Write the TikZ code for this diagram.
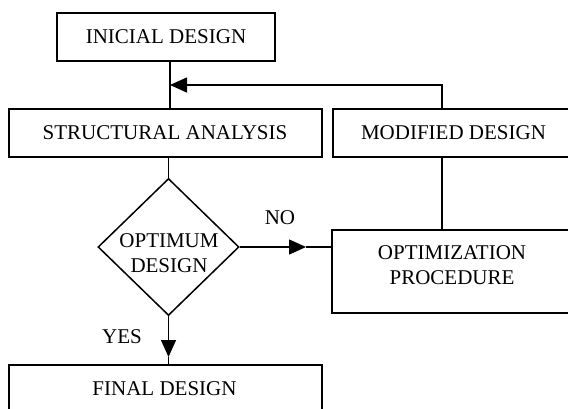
\documentclass[tikz,border=0pt]{standalone}
\usepackage{fontspec}
\setmainfont{Liberation Serif}
\usetikzlibrary{shapes.geometric,arrows.meta}
\tikzset{
  box/.style={draw=black, line width=1.5pt, rectangle, inner sep=0pt, fill=none},
  lbl/.style={inner sep=0pt, align=center, font=\fontsize{21}{25}\selectfont},
  conn/.style={line width=1.5pt},
  tip/.style={-{Triangle[length=17pt,width=15pt]}},
}
\begin{document}
\begin{tikzpicture}[x=1pt,y=-1pt]
\clip (0,0) rectangle (568,409);
\fill[white] (0,0) rectangle (568,409);
% boxes
\node[box, minimum width=218pt, minimum height=48pt] (ini) at (166,37) {};
\node[box, minimum width=313pt, minimum height=48pt] (struct) at (165.5,133) {};
\node[box, minimum width=241pt, minimum height=48pt] (mod) at (453.5,133) {};
\node[box, minimum width=240pt, minimum height=83pt] (opt) at (452,271.5) {};
\node[box, minimum width=313pt, minimum height=60pt] (fin) at (165.5,395) {};
\node[draw=black, line width=1.5pt, diamond, inner sep=0pt, minimum width=141pt, minimum height=137pt] (dia) at (168.5,247) {};
% texts
\node[lbl] (tini) at (166,37) {INICIAL DESIGN};
\node[lbl] (tstruct) at (165,133) {STRUCTURAL ANALYSIS};
\node[lbl] (tmod) at (453.5,133) {MODIFIED DESIGN};
\node[lbl] (topt) at (452,265.5) {OPTIMIZATION\\PROCEDURE};
\node[lbl] (tdia) at (169,253.5) {OPTIMUM\\DESIGN};
\node[lbl] (tfin) at (164.5,389) {FINAL DESIGN};
\node[lbl] (tno) at (280,218) {NO};
\node[lbl] (tyes) at (122,337) {YES};
% connector helper points
\coordinate (j) at (170,85);
\coordinate (k) at (442,85);
\coordinate (n) at (306,247);
\coordinate (y) at (168.5,357);
% connectors
\draw[conn] (ini.south -| j) -- (struct.north -| j);
\draw[conn, tip] (mod.north -| k) -- (k) -- (j);
\draw[conn] (mod.south -| k) -- (opt.north -| k);
\draw[conn] (struct.south -| dia.north) -- (dia.north);
\draw[conn, tip] (dia.east) -- (n);
\draw[conn] (n) -- (dia.east -| opt.west);
\draw[conn, tip] (dia.south) -- (y);
\draw[conn] (y) -- (fin.north -| y);
\end{tikzpicture}
\end{document}
